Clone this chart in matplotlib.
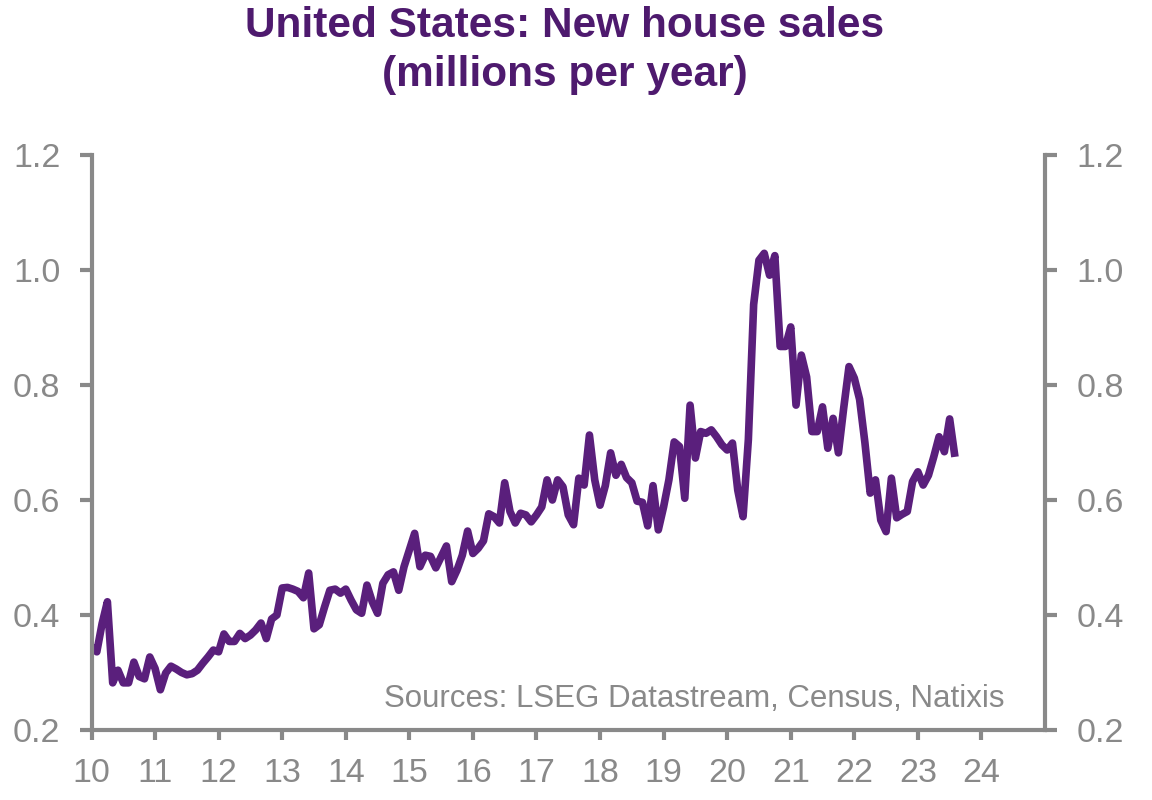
import matplotlib
matplotlib.use("Agg")
import matplotlib.pyplot as plt
import numpy as np

plt.rcParams['font.family'] = ['Liberation Sans', 'DejaVu Sans']

title = "United States: New house sales\n(millions per year)"
source = "Sources: LSEG Datastream, Census, Natixis"

start_year = 10  # Jan 2010, monthly data
sales = [
    # 2010
    0.345, 0.336, 0.385, 0.423, 0.282, 0.304, 0.282, 0.282, 0.318, 0.293, 0.289, 0.327,
    # 2011
    0.307, 0.270, 0.299, 0.311, 0.306, 0.300, 0.296, 0.298, 0.304, 0.316, 0.327, 0.339,
    # 2012
    0.336, 0.367, 0.354, 0.354, 0.368, 0.359, 0.365, 0.374, 0.386, 0.359, 0.393, 0.400,
    # 2013
    0.447, 0.448, 0.445, 0.441, 0.430, 0.473, 0.376, 0.383, 0.414, 0.443, 0.445, 0.438,
    # 2014
    0.445, 0.426, 0.409, 0.403, 0.452, 0.423, 0.403, 0.455, 0.470, 0.475, 0.443, 0.484,
    # 2015
    0.513, 0.542, 0.484, 0.504, 0.502, 0.482, 0.501, 0.520, 0.458, 0.478, 0.504, 0.546,
    # 2016
    0.507, 0.516, 0.529, 0.576, 0.571, 0.560, 0.630, 0.580, 0.560, 0.577, 0.574, 0.562,
    # 2017
    0.574, 0.588, 0.635, 0.600, 0.635, 0.623, 0.574, 0.557, 0.638, 0.626, 0.713, 0.635,
    # 2018
    0.591, 0.625, 0.682, 0.643, 0.662, 0.639, 0.630, 0.598, 0.596, 0.555, 0.625, 0.548,
    # 2019
    0.588, 0.635, 0.701, 0.693, 0.603, 0.765, 0.673, 0.719, 0.716, 0.722, 0.710, 0.696,
    # 2020
    0.687, 0.699, 0.617, 0.571, 0.705, 0.940, 1.017, 1.029, 0.991, 1.025, 0.867, 0.867,
    # 2021
    0.901, 0.765, 0.852, 0.814, 0.719, 0.719, 0.762, 0.690, 0.742, 0.682, 0.760, 0.832,
    # 2022
    0.812, 0.775, 0.700, 0.612, 0.635, 0.565, 0.545, 0.638, 0.569, 0.575, 0.580, 0.632,
    # 2023
    0.649, 0.626, 0.643, 0.675, 0.710, 0.684, 0.741, 0.675,
]
x_ticks = list(range(10, 25))
y_ticks = [0.2, 0.4, 0.6, 0.8, 1.0, 1.2]

gray = "#898989"
purple_line = "#5a1f7c"
purple_title = "#4e1a6e"

x = start_year + np.arange(len(sales)) / 12.0

fig = plt.figure(figsize=(11.52, 8.0), dpi=100)
ax = fig.add_axes([91.5 / 1152, 1 - 730 / 800, (1045 - 91.5) / 1152, (730 - 155) / 800])

ax.plot(x, sales, color=purple_line, lw=5.5, solid_joinstyle='round', solid_capstyle='butt')

ax.set_xlim(10, 25)
ax.set_ylim(0.2, 1.2)
ax.set_xticks(x_ticks)
ax.set_xticklabels([str(t) for t in x_ticks])
ax.set_yticks(y_ticks)
ax.set_yticklabels([f"{t:.1f}" for t in y_ticks])

for s in ['left', 'right', 'bottom']:
    ax.spines[s].set_color(gray)
    ax.spines[s].set_linewidth(3)
ax.spines['top'].set_visible(False)

ax.tick_params(axis='y', which='both', left=True, right=True, labelleft=True, labelright=True,
               direction='out', length=8.5, width=3, color=gray, labelcolor=gray,
               labelsize=24.5, pad=14)
ax.tick_params(axis='x', direction='out', length=7.5, width=3, color=gray, labelcolor=gray,
               labelsize=24.5, pad=13)

fig.text(565 / 1152, 1 - 6 / 800, title, ha='center', va='top', fontsize=30.5,
         fontweight='bold', color=purple_title, linespacing=1.3)

ax.text(1005 / 1152, 1 - 699 / 800, source, transform=fig.transFigure, ha='right', va='center',
        fontsize=22.5, color=gray)

fig.savefig("out.png", dpi=100, facecolor='white')
